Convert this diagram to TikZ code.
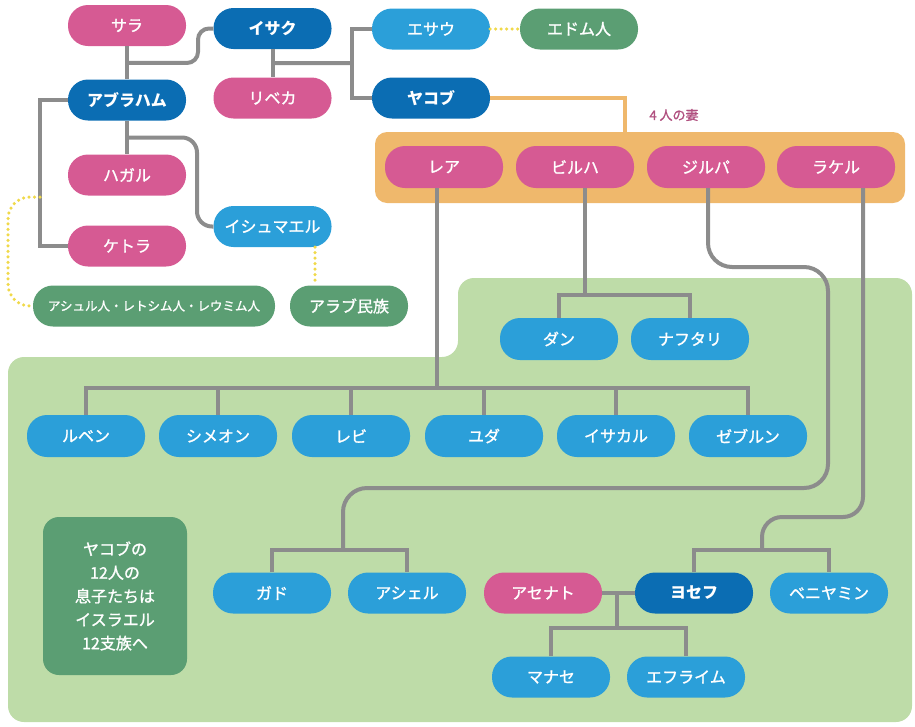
\documentclass[tikz,border=0pt]{standalone}
\usepackage{fontspec}
\setmainfont{Noto Sans CJK JP}
\newfontfamily\medfont{Noto Sans CJK JP}[FakeBold=1.3]
\usetikzlibrary{calc}
\definecolor{pk}{HTML}{D65A93}
\definecolor{db}{HTML}{0B6DB3}
\definecolor{lb}{HTML}{2B9FD9}
\definecolor{gn}{HTML}{5B9E73}
\definecolor{lg}{HTML}{BEDCA8}
\definecolor{orb}{HTML}{EFB86C}
\definecolor{gl}{HTML}{8C8C8C}
\definecolor{yd}{HTML}{F0D94A}
\definecolor{lbl}{HTML}{B0507F}
\begin{document}
\begin{tikzpicture}[x=1pt,y=-1pt,
  pill/.style={rounded corners=20pt, minimum width=118pt, minimum height=41pt, inner sep=0pt, text=white, font=\medfont\fontsize{16}{19}\selectfont},
  pinkn/.style={pill, fill=pk},
  darkn/.style={pill, fill=db, font=\fontsize{16}{19}\selectfont\bfseries},
  bluen/.style={pill, fill=lb},
  greenn/.style={pill, fill=gn},
  gline/.style={draw=gl, line width=4pt},
  oline/.style={draw=orb, line width=4pt},
  ydot/.style={draw=yd, line width=3.5pt, dash pattern=on 0pt off 5.5pt, line cap=round}
]
\useasboundingbox (0,0) rectangle (915,726);
% green background
\fill[lg, rounded corners=16pt] (8,357) -- (458,357) -- (458,278) -- (912,278) -- (912,722) -- (8,722) -- cycle;
% orange box
\node[fill=orb, rounded corners=12pt, minimum width=530pt, minimum height=71pt, inner sep=0pt] (wives) at (640,167.5) {};

% top nodes
\node[pinkn] (sara) at (127,25.5) {サラ};
\node[darkn] (isaac) at (272.5,28.5) {イサク};
\node[darkn] (abr) at (127,100) {アブラハム};
\node[pinkn] (rebekah) at (272.5,98) {リベカ};
\node[pinkn] (hagar) at (127,175) {ハガル};
\node[pinkn] (keturah) at (127,246) {ケトラ};
\node[bluen] (ishmael) at (272.5,226.5) {イシュマエル};
\node[greenn, minimum width=242pt, font=\medfont\fontsize{12.5}{15}\selectfont] (ashur) at (154,306) {アシュル人・レトシム人・レウミム人};
\node[greenn] (arab) at (349,306) {アラブ民族};
\node[bluen] (esau) at (431,29) {エサウ};
\node[greenn] (edom) at (579,29) {エドム人};
\node[darkn] (jacob) at (431,98) {ヤコブ};
\node[text=lbl, font=\medfont\fontsize{13}{15}\selectfont, inner sep=0pt] (wlabel) at (674,115) {4 人の妻};

% wives
\node[pinkn, minimum height=42pt] (lea) at (444,167) {レア};
\node[pinkn, minimum height=42pt] (bilhah) at (575,167) {ビルハ};
\node[pinkn, minimum height=42pt] (zilpah) at (706,167) {ジルパ};
\node[pinkn, minimum height=42pt] (rachel) at (836,167) {ラケル};

% sons
\node[bluen, minimum height=42pt] (dan) at (559,339) {ダン};
\node[bluen, minimum height=42pt] (naph) at (690,339) {ナフタリ};
\node[bluen, minimum height=42pt] (ruben) at (86,436) {ルベン};
\node[bluen, minimum height=42pt] (simeon) at (218,436) {シメオン};
\node[bluen, minimum height=42pt] (levi) at (351,436) {レビ};
\node[bluen, minimum height=42pt] (judah) at (484,436) {ユダ};
\node[bluen, minimum height=42pt] (issachar) at (616,436) {イサカル};
\node[bluen, minimum height=42pt] (zebulun) at (748,436) {ゼブルン};
\node[bluen] (gad) at (272,593) {ガド};
\node[bluen] (asher) at (407,593) {アシェル};
\node[pinkn] (asenath) at (543,593) {アセナト};
\node[darkn] (joseph) at (694,593) {ヨセフ};
\node[bluen] (benjamin) at (829,593) {ベニヤミン};
\node[bluen] (manasseh) at (551,677) {マナセ};
\node[bluen] (ephraim) at (686,677) {エフライム};

% legend
\node[fill=gn, rounded corners=16pt, minimum width=144pt, minimum height=158pt, inner sep=0pt, text=white, align=center, font=\medfont\fontsize{16}{23.5}\selectfont] (legend) at (115,596) {ヤコブの\\12人の\\息子たちは\\イスラエル\\12支族へ};

% coordinates
\coordinate (m1) at ($(sara.south)!0.5!(abr.north)$);
\coordinate (m2) at ($(abr.south)!0.5!(hagar.north)$);
\coordinate (m3) at ($(isaac.south)!0.5!(rebekah.north)$);
\coordinate (ej) at (352,63);
\coordinate (kx) at (40,0);
\coordinate (ix) at (315,0);
\coordinate (oj) at (625,98);
\coordinate (lh) at (437,388);
\coordinate (bh) at (585,295);
\coordinate (zx) at (708,0);
\coordinate (gj) at (343,550);
\coordinate (rx) at (863,0);
\coordinate (jj) at (762,550);
\coordinate (aj) at (617,628);

% Abraham family lines
\draw[gline] (sara.south) -- (abr.north);
\draw[gline, rounded corners=11pt] (m1) -- (198,63) -- (198,28.5) -- (isaac.west);
\draw[gline] (abr.south) -- (hagar.north);
\draw[gline, rounded corners=15pt] (m2) -- (197,137.5) -- (197,226.5) -- (ishmael.west);
\draw[gline] (abr.west) -| (kx |- keturah.west) -- (keturah.west);
\draw[gline] (isaac.south) -- (rebekah.north);
\draw[gline] (m3) -- (ej);
\draw[gline] (esau.west) -| (ej) |- (jacob.west);
% dotted
\draw[ydot, rounded corners=22pt] (40,197) -- (8,197) -- (8,306) -- (ashur.west);
\draw[ydot] (ishmael.south -| ix) -- (arab.north -| ix);
\draw[ydot] (esau.east) -- (edom.west);
% Jacob to wives
\draw[oline] (jacob.east) -- (oj) -- (wives.north -| oj);

% Leah
\draw[gline] (lea.south -| lh) -- (lh);
\draw[gline] (ruben.north) |- (zebulun.north |- lh) -- (zebulun.north);
\foreach \n in {simeon,levi,judah,issachar} \draw[gline] (\n.north) -- (\n.north |- lh);
% Bilhah
\draw[gline] (bilhah.south -| bh) -- (bh);
\draw[gline] (dan.north) |- (naph.north |- bh) -- (naph.north);
% Zilpah
\draw[gline, rounded corners=24pt] (zilpah.south -| zx) -- (708,267) -- (828,267) -- (828,488) -- (343,488) -- (gj);
\draw[gline] (gad.north) |- (asher.north |- gj) -- (asher.north);
% Rachel
\draw[gline, rounded corners=20pt] (rachel.south -| rx) -- (863,517) -- (762,517) -- (jj);
\draw[gline] (joseph.north) |- (benjamin.north |- jj) -- (benjamin.north);
% Joseph & Asenath
\draw[gline] (asenath.east) -- (joseph.west);
\draw[gline] (asenath.east -| aj) -- (aj);
\draw[gline] (manasseh.north) |- (ephraim.north |- aj) -- (ephraim.north);
\end{tikzpicture}
\end{document}
